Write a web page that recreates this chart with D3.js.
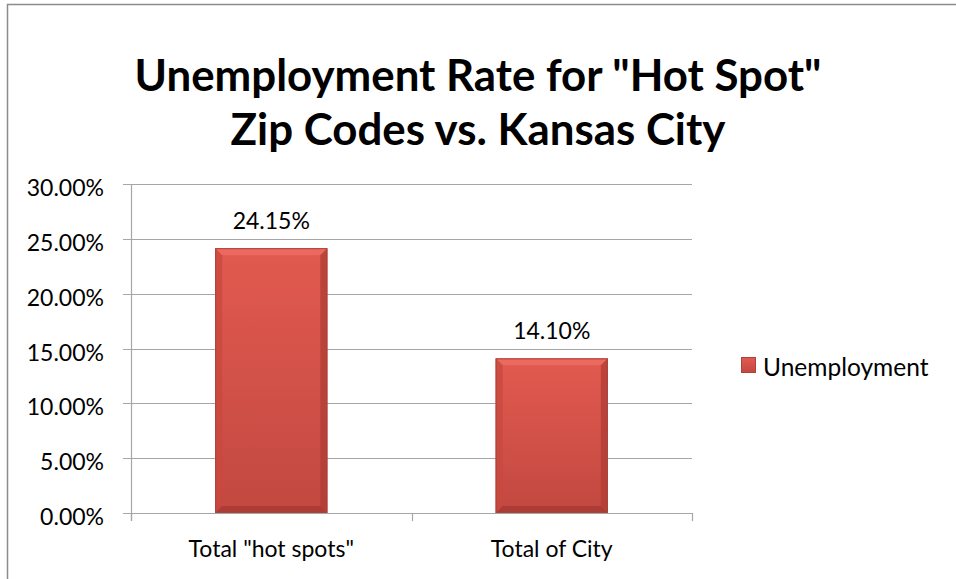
<!DOCTYPE html>
<html><head><meta charset="utf-8">
<script src="https://cdn.jsdelivr.net/npm/d3@7"></script>
<style>body{margin:0;background:#fff}svg{display:block}</style>
</head><body>
<script>
const categories = ['Total "hot spots"', 'Total of City'];
const values = [0.2415, 0.141];
const seriesName = "Unemployment";
const yTicks = [0, 0.05, 0.10, 0.15, 0.20, 0.25, 0.30];
const titleLines = ['Unemployment Rate for "Hot Spot"', 'Zip Codes vs. Kansas City'];

const W = 956, H = 579;
const svg = d3.select("body").append("svg").attr("width", W).attr("height", H);
const font = "Lato, 'Open Sans', sans-serif";

// outer border
svg.append("path").attr("d", `M7.5,${H} V4.5 H${W}`).attr("fill","none").attr("stroke","#8c8c8c").attr("stroke-width",1.5);

const defs = svg.append("defs");
const g1 = defs.append("linearGradient").attr("id","barG").attr("x1",0).attr("y1",0).attr("x2",0).attr("y2",1);
g1.append("stop").attr("offset","0%").attr("stop-color","#e25a50");
g1.append("stop").attr("offset","100%").attr("stop-color","#c24840");

const x0 = 131, x1 = 692, yTop = 184, yBot = 513;
const x = d3.scaleBand().domain(categories).range([x0, x1]).paddingInner(0.6).paddingOuter(0.3);
const y = d3.scaleLinear().domain([0, 0.30]).range([yBot, yTop]);

// title
const tl = svg.append("g").selectAll("text").data(titleLines).join("text")
  .attr("x", 0).attr("y", 0)
  .attr("text-anchor","middle").attr("font-family",font).attr("font-weight","bold")
  .attr("font-size",44).attr("fill","#000").text(d=>d);
const w1 = tl.nodes()[0].getComputedTextLength();
const k = 687 / w1;
tl.attr("transform",(d,i)=>`translate(478,${91 + i*54}) scale(${k},1)`);

// gridlines
svg.append("g").selectAll("line").data(yTicks).join("line")
  .attr("x1", x0-8).attr("x2", x1).attr("y1", d=>Math.round(y(d))+0.5).attr("y2", d=>Math.round(y(d))+0.5)
  .attr("stroke","#a6a6a6").attr("stroke-width",1.2);

// y axis line
svg.append("line").attr("x1",x0+0.5).attr("x2",x0+0.5).attr("y1",yTop).attr("y2",yBot+8).attr("stroke","#a6a6a6").attr("stroke-width",1.2);
// x category separator ticks
const sep = [x0, (x0+x1)/2, x1];
svg.append("g").selectAll("line").data(sep).join("line")
  .attr("x1",d=>Math.round(d)+0.5).attr("x2",d=>Math.round(d)+0.5).attr("y1",yBot).attr("y2",yBot+8)
  .attr("stroke","#a6a6a6").attr("stroke-width",1.2);

// y labels
svg.append("g").selectAll("text").data(yTicks).join("text")
  .attr("x", 104).attr("y", d=>y(d)+12).attr("text-anchor","end")
  .attr("font-family",font).attr("font-size",23).attr("fill","#000")
  .text(d=>d3.format(".2%")(d));

// bars with bevel
const bars = svg.append("g").selectAll("g").data(values).join("g");
bars.each(function(v,i){
  const gg = d3.select(this);
  const bx = x(categories[i]), bw = x.bandwidth(), by = y(v), bh = yBot - y(v);
  const b = 7;
  gg.append("rect").attr("x",bx).attr("y",by).attr("width",bw).attr("height",bh).attr("fill","url(#barG)");
  gg.append("path").attr("d",`M${bx},${by} L${bx+bw},${by} L${bx+bw-b},${by+b} L${bx+b},${by+b} Z`).attr("fill","#ec6c62").attr("opacity",0.85);
  gg.append("path").attr("d",`M${bx},${by} L${bx+b},${by+b} L${bx+b},${by+bh-b} L${bx},${by+bh} Z`).attr("fill","#c9493f").attr("opacity",0.8);
  gg.append("path").attr("d",`M${bx+bw},${by} L${bx+bw-b},${by+b} L${bx+bw-b},${by+bh-b} L${bx+bw},${by+bh} Z`).attr("fill","#b23e36").attr("opacity",0.8);
  gg.append("path").attr("d",`M${bx},${by+bh} L${bx+b},${by+bh-b} L${bx+bw-b},${by+bh-b} L${bx+bw},${by+bh} Z`).attr("fill","#a63a33").attr("opacity",0.8);
  gg.append("rect").attr("x",bx+0.5).attr("y",by+0.5).attr("width",bw-1).attr("height",bh-1).attr("fill","none").attr("stroke","#a8443c").attr("stroke-width",1);
  gg.append("text").attr("x",bx+bw/2).attr("y",by-19.5).attr("text-anchor","middle")
    .attr("font-family",font).attr("font-size",23).attr("fill","#000").text(d3.format(".2%")(v));
});

// category labels
svg.append("g").selectAll("text").data(categories).join("text")
  .attr("x", d=>x(d)+x.bandwidth()/2).attr("y", 557).attr("text-anchor","middle")
  .attr("font-family",font).attr("font-size",23).attr("fill","#000").text(d=>d);

// legend
const lg = svg.append("g").attr("transform","translate(741,357)");
lg.append("rect").attr("x",0.5).attr("y",0.5).attr("width",14).attr("height",15).attr("fill","url(#barG)").attr("stroke","#a8443c");
lg.append("text").attr("x",22).attr("y",19).attr("font-family",font).attr("font-size",24.5).attr("fill","#000").text(seriesName);
</script>
</body></html>
